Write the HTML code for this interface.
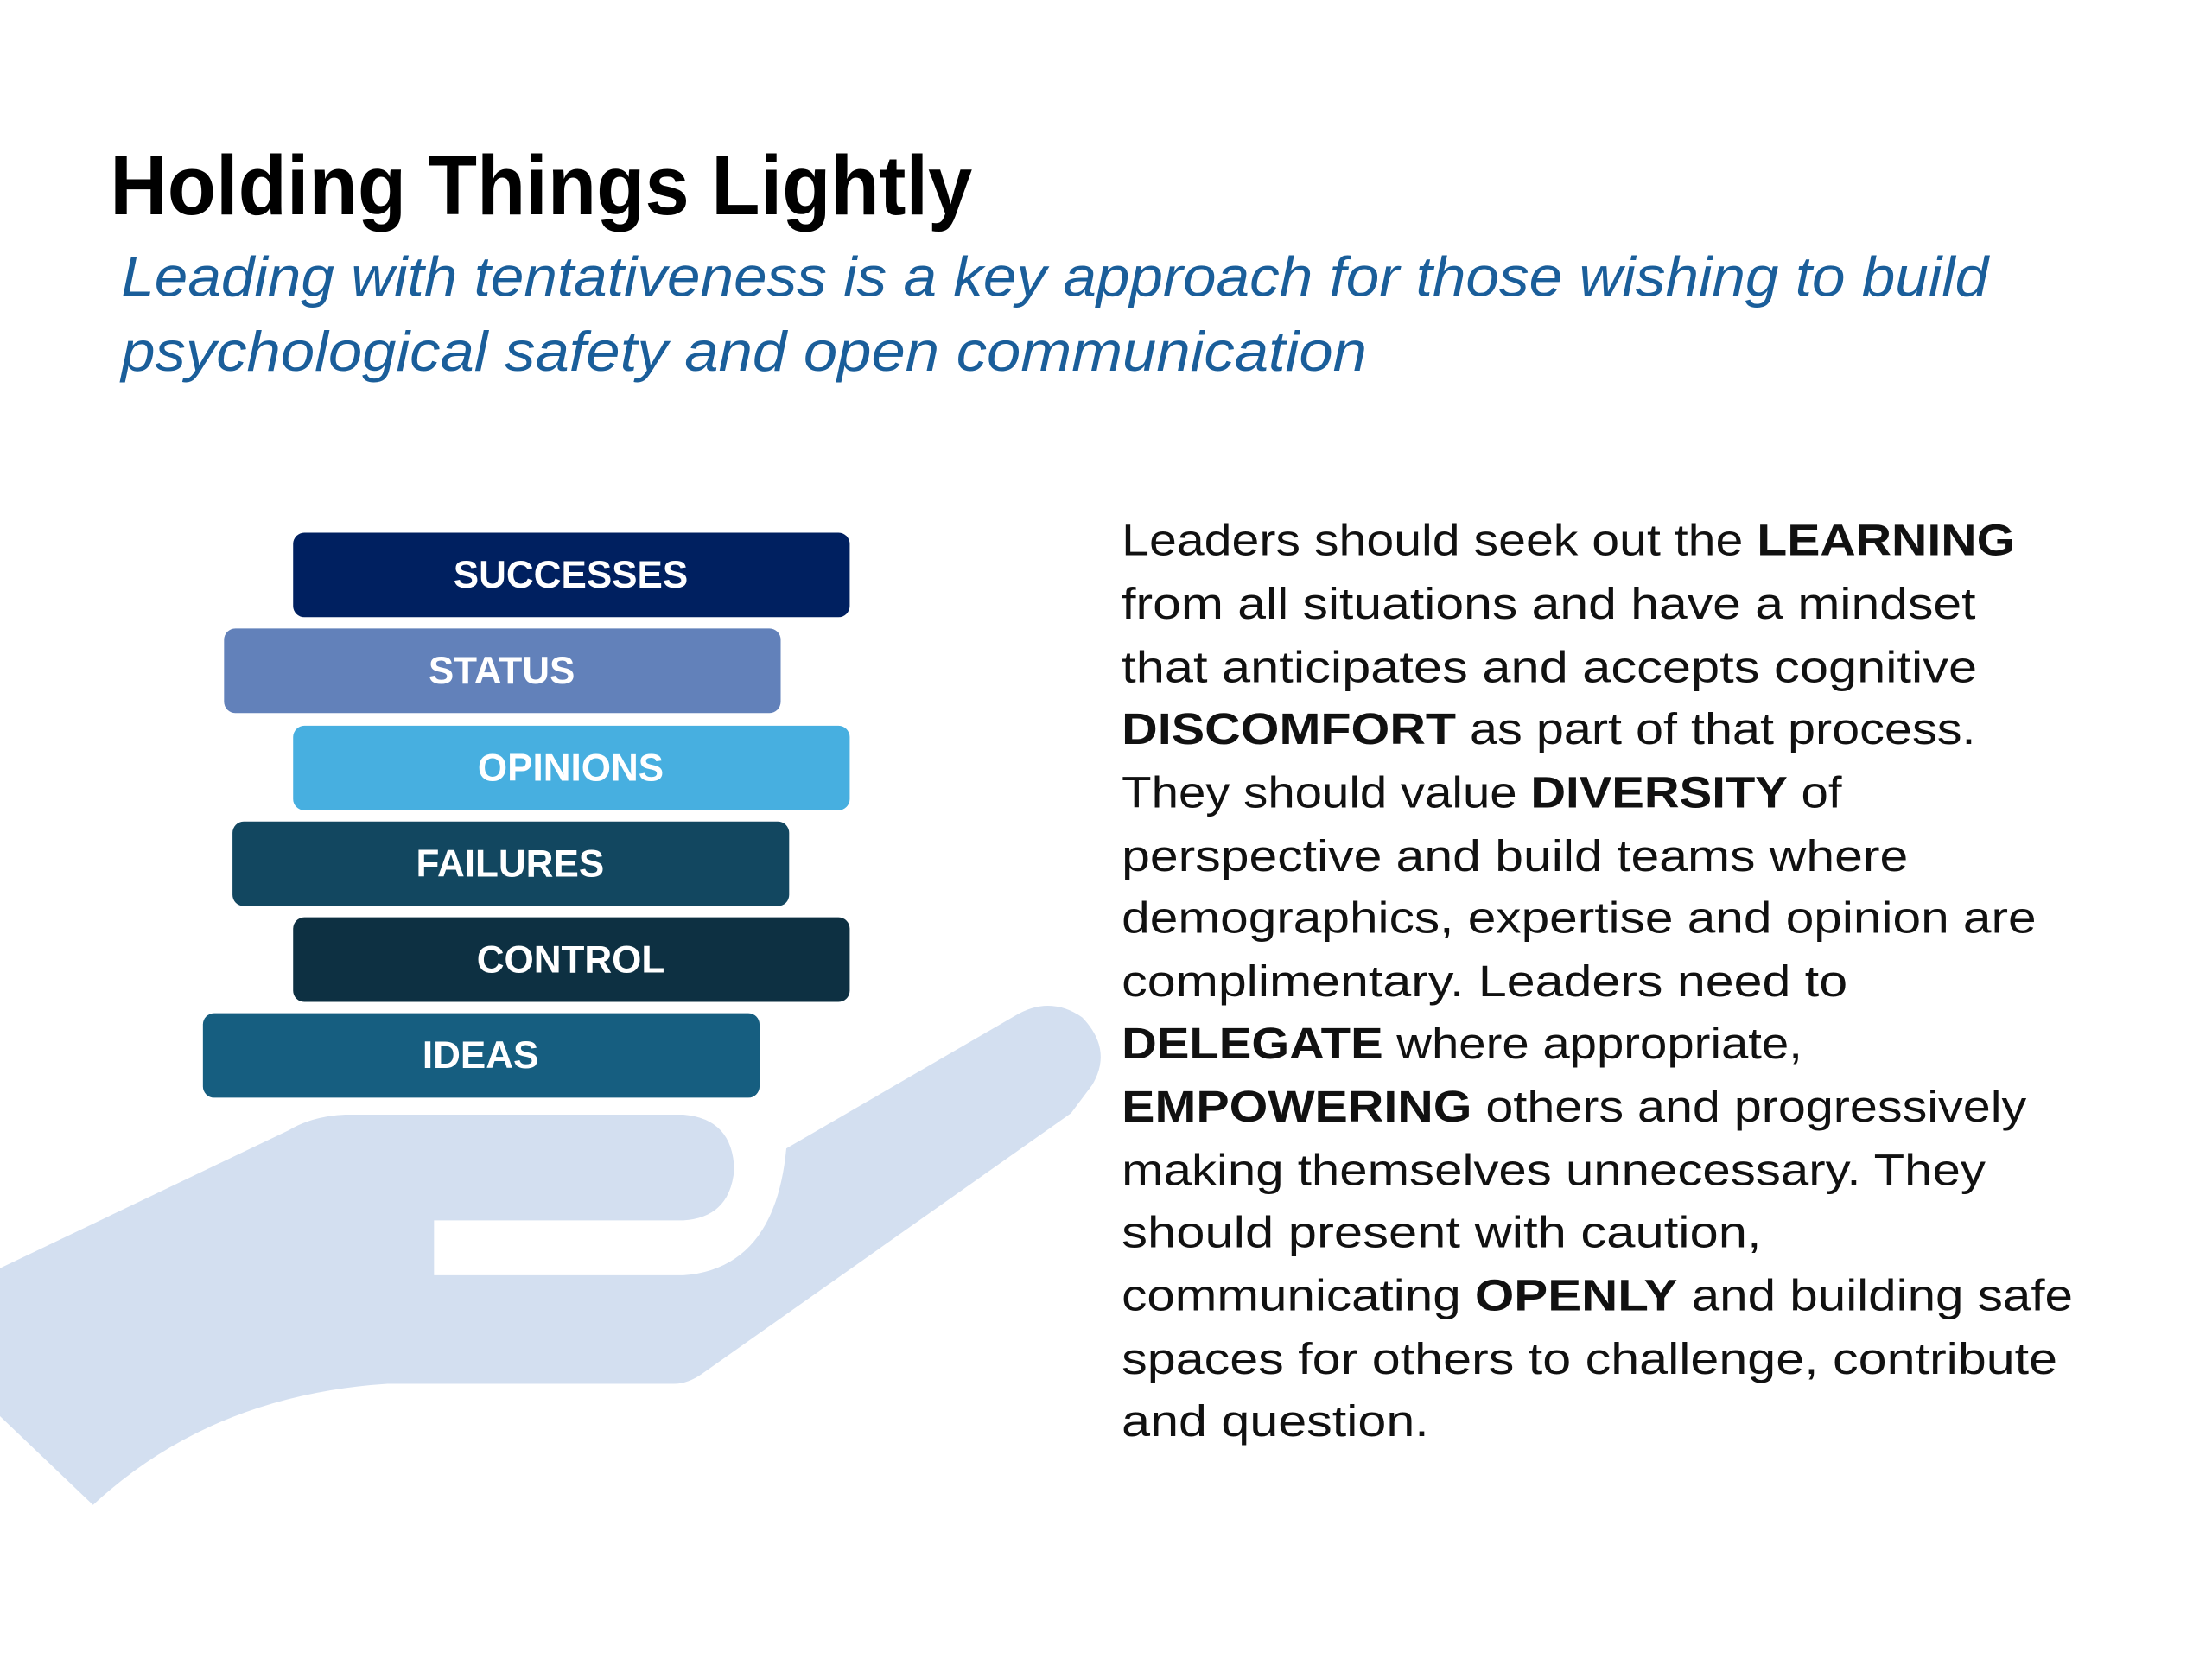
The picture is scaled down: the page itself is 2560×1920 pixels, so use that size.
<!DOCTYPE html>
<html><head><meta charset="utf-8"><style>
html,body{margin:0;padding:0;background:#fff;}
svg{display:block;}
</style></head><body>
<svg width="2560" height="1920" viewBox="0 0 1569.7 1177.3" preserveAspectRatio="none" xmlns="http://www.w3.org/2000/svg">
<rect width="1570" height="1178" fill="#fff"/>
<!-- hand -->
<path fill="#d3dff0" d="M0,900 L205,802 Q222,792 245,791 L485,791 Q520,794 521,830 Q518,864 485,866 L308,866 L308,905 L485,905 Q550,900 558,815 L720,721 Q745,706 768,722 Q790,745 775,770 L760,790 L498,975 Q488,982 478,982 L275,982 Q150,990 66,1068 L0,1005 Z"/>
<!-- title -->
<text x="78" y="152" font-family="Liberation Sans, sans-serif" font-weight="bold" font-size="60" textLength="612" lengthAdjust="spacingAndGlyphs" fill="#000">Holding Things Lightly</text>
<g font-family="Liberation Sans, sans-serif" font-style="italic" font-size="40" fill="#1a5e9a">
<text x="86" y="210" textLength="1325" lengthAdjust="spacingAndGlyphs">Leading with tentativeness is a key approach for those wishing to build</text>
<text x="86" y="263" textLength="884" lengthAdjust="spacingAndGlyphs">psychological safety and open communication</text>
</g>
<!-- bars -->
<g>
<rect x="208" y="378" width="395" height="60" rx="8" fill="#002060"/>
<rect x="159" y="446" width="395" height="60" rx="8" fill="#6281ba"/>
<rect x="208" y="515" width="395" height="60" rx="8" fill="#47afe0"/>
<rect x="165" y="583" width="395" height="60" rx="8" fill="#124760"/>
<rect x="208" y="651" width="395" height="60" rx="8" fill="#0d3042"/>
<rect x="144" y="719" width="395" height="60" rx="8" fill="#165e80"/>
</g>
<g font-family="Liberation Sans, sans-serif" font-weight="bold" font-size="27" fill="#fff" text-anchor="middle">
<text x="405" y="417">SUCCESSES</text>
<text x="356" y="485">STATUS</text>
<text x="405" y="554">OPINIONS</text>
<text x="362" y="622">FAILURES</text>
<text x="405" y="690">CONTROL</text>
<text x="341" y="758">IDEAS</text>
</g>
<!-- paragraph -->
<g font-family="Liberation Sans, sans-serif" font-size="31" fill="#111">
<text x="796" y="394" textLength="634" lengthAdjust="spacingAndGlyphs">Leaders should seek out the <tspan font-weight="bold">LEARNING</tspan></text>
<text x="796" y="439" textLength="606" lengthAdjust="spacingAndGlyphs">from all situations and have a mindset</text>
<text x="796" y="484" textLength="607" lengthAdjust="spacingAndGlyphs">that anticipates and accepts cognitive</text>
<text x="796" y="528" textLength="606" lengthAdjust="spacingAndGlyphs"><tspan font-weight="bold">DISCOMFORT</tspan> as part of that process.</text>
<text x="796" y="573" textLength="511" lengthAdjust="spacingAndGlyphs">They should value <tspan font-weight="bold">DIVERSITY</tspan> of</text>
<text x="796" y="618" textLength="558" lengthAdjust="spacingAndGlyphs">perspective and build teams where</text>
<text x="796" y="662" textLength="649" lengthAdjust="spacingAndGlyphs">demographics, expertise and opinion are</text>
<text x="796" y="707" textLength="515" lengthAdjust="spacingAndGlyphs">complimentary. Leaders need to</text>
<text x="796" y="751" textLength="483" lengthAdjust="spacingAndGlyphs"><tspan font-weight="bold">DELEGATE</tspan> where appropriate,</text>
<text x="796" y="796" textLength="642" lengthAdjust="spacingAndGlyphs"><tspan font-weight="bold">EMPOWERING</tspan> others and progressively</text>
<text x="796" y="841" textLength="613" lengthAdjust="spacingAndGlyphs">making themselves unnecessary. They</text>
<text x="796" y="885" textLength="454" lengthAdjust="spacingAndGlyphs">should present with caution,</text>
<text x="796" y="930" textLength="675" lengthAdjust="spacingAndGlyphs">communicating <tspan font-weight="bold">OPENLY</tspan> and building safe</text>
<text x="796" y="975" textLength="664" lengthAdjust="spacingAndGlyphs">spaces for others to challenge, contribute</text>
<text x="796" y="1019" textLength="218" lengthAdjust="spacingAndGlyphs">and question.</text>
</g>
</svg>
</body></html>
